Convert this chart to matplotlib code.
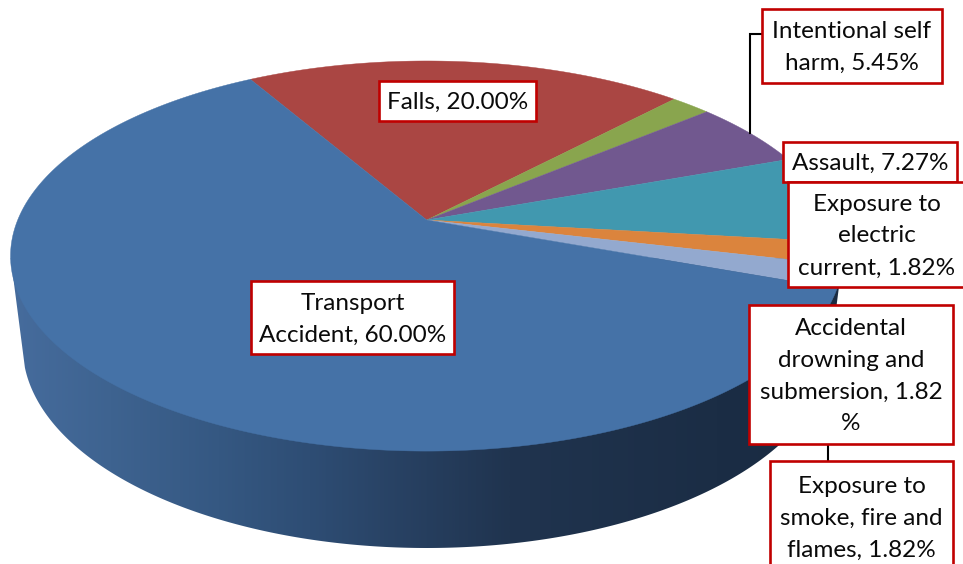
import numpy as np
import matplotlib
matplotlib.use("Agg")
import matplotlib.pyplot as plt
from matplotlib.colors import LinearSegmentedColormap
from matplotlib.patches import Polygon, Rectangle

# --- data (clockwise from the start angle) ---
categories = ["Falls", "Exposure to smoke, fire and flames", "Intentional self harm",
              "Assault", "Exposure to electric current",
              "Accidental drowning and submersion", "Transport Accident"]
values = [20.00, 1.82, 5.45, 7.27, 1.82, 1.82, 60.00]
colors = ["#AA4643", "#89A54E", "#71588F", "#4198AF", "#DB843D", "#93A9CF", "#4572A7"]
label_texts = ["Falls, 20.00%",
               "Exposure to\nsmoke, fire and\nflames, 1.82%",
               "Intentional self\nharm, 5.45%",
               "Assault, 7.27%",
               "Exposure to\nelectric\ncurrent, 1.82%",
               "Accidental\ndrowning and\nsubmersion, 1.82\n%",
               "Transport\nAccident, 60.00%"]

# --- layout (pixels) ---
label_boxes = [(379, 81, 536, 121), (770, 461, 953, 572), (762, 9, 942, 83),
               (783, 142, 957, 182), (788, 182, 965, 287), (749, 305, 953, 444),
               (251, 281, 454, 354)]
leaders = [[(750, 133), (750, 34), (762, 34)], [(828, 444), (828, 461)]]
draw_order = [6, 0, 2, 3, 4, 5, 1]
START = 120.0
CX, CY, A, B, K = 426.7, 220.0, 409.0, 188.4, 0.1847
LOW = (426.7, 346.6, 404.0, 201.4)


def project(theta_deg, r=1.0):
    t = np.radians(theta_deg)
    X, Y = r * np.cos(t), r * np.sin(t)
    w = 1 + K * Y
    return CX + A * X / w, CY - B * Y / w


plt.rcParams["font.family"] = ["Lato", "DejaVu Sans"]
fig = plt.figure(figsize=(9.63, 5.64), dpi=100)
ax = fig.add_axes([0, 0, 1, 1])
ax.set_xlim(0, 963)
ax.set_ylim(564, 0)
ax.axis("off")

# side wall with horizontal gradient
side_cmap = LinearSegmentedColormap.from_list(
    "side", [(0.0, "#466c9d"), (0.12, "#3e6390"), (0.25, "#355882"), (0.36, "#2e4d74"),
             (0.5, "#263e5e"), (0.6, "#20344f"), (0.85, "#1b2d45"), (1.0, "#1a2b42")])
tt = np.radians(np.linspace(174, 6, 300))
lx = LOW[0] + LOW[2] * np.cos(tt)
ly = LOW[1] + LOW[3] * np.sin(tt)
side_pts = np.column_stack([np.r_[10.7, lx, 842.7], np.r_[258, ly, 258]])
side_patch = Polygon(side_pts, closed=True, facecolor="none", edgecolor="none")
ax.add_patch(side_patch)
im = ax.imshow(np.linspace(0, 1, 512)[None, :], cmap=side_cmap, aspect="auto",
               extent=(10, 843, 564, 200), interpolation="bilinear", zorder=1)
im.set_clip_path(side_patch)
ax.set_xlim(0, 963)
ax.set_ylim(564, 0)

# top face wedges
fractions = np.array(values) / np.sum(values)
edges = START - 360 * np.r_[0, np.cumsum(fractions)]
for v0, v1, col in zip(edges[:-1], edges[1:], colors):
    th = np.linspace(v0, v1, max(int(abs(v1 - v0) * 2), 8))
    px, py = project(th)
    pts = np.column_stack([np.r_[CX, px], np.r_[CY, py]])
    ax.add_patch(Polygon(pts, closed=True, facecolor=col, edgecolor=col, lw=0.3, zorder=2))

# leader lines
for seg in leaders:
    xs, ys = zip(*seg)
    ax.plot(xs, ys, color="black", lw=1.5, zorder=3, solid_joinstyle="miter")

# label boxes and text
for i in draw_order:
    x0, y0, x1, y1 = label_boxes[i]
    ax.add_patch(Rectangle((x0, y0), x1 - x0, y1 - y0, facecolor="white",
                           edgecolor="#C00000", lw=1.9, zorder=4, clip_on=True))
    ax.text((x0 + x1) / 2, (y0 + y1) / 2 + 1.5, label_texts[i], ha="center", va="center",
            fontsize=17.5, color="#0a0a0a", linespacing=1.64, zorder=5)

fig.savefig("out.png", dpi=100)
